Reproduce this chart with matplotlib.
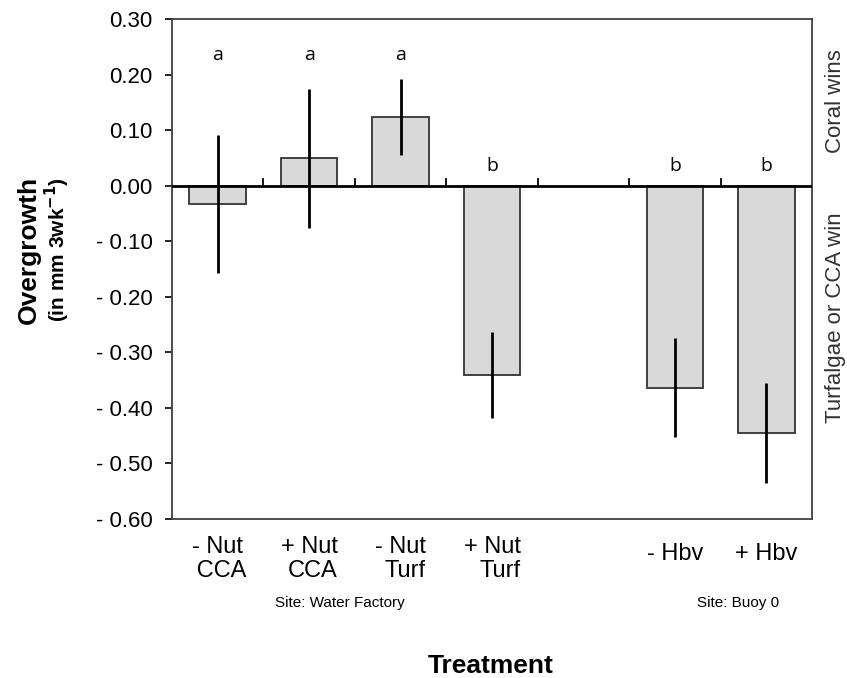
import matplotlib
matplotlib.use("Agg")
import matplotlib.pyplot as plt
from matplotlib.ticker import FixedLocator, FuncFormatter

# ---- data ----
categories = ["- Nut\n CCA", "+ Nut\nCCA", "- Nut\nTurf", "+ Nut\nTurf", "- Hbv", "+ Hbv"]
slots = [0, 1, 2, 3, 5, 6]          # slot 4 is an empty gap between sites
means = [-0.033, 0.049, 0.124, -0.341, -0.364, -0.446]
errors = [0.125, 0.125, 0.068, 0.078, 0.089, 0.090]
letters = ["a", "a", "a", "b", "b", "b"]
letter_y = [0.235, 0.235, 0.235, 0.035, 0.035, 0.035]
yticks = [0.30, 0.20, 0.10, 0.00, -0.10, -0.20, -0.30, -0.40, -0.50, -0.60]
sites = ["Site: Water Factory", "Site: Buoy 0"]

plt.rcParams['font.family'] = ['Liberation Sans', 'DejaVu Sans']

fig = plt.figure(figsize=(8.47, 6.78), dpi=100)
ax = fig.add_axes([172/847, 1 - 519/678, (812-172)/847, (519-19)/678])

ax.bar(slots, means, width=0.62, color="#d9d9d9", edgecolor="#333333", linewidth=1.3, zorder=2)
ax.errorbar(slots, means, yerr=errors, fmt="none", ecolor="black", elinewidth=2, capsize=0, zorder=3)

ax.set_xlim(-0.5, 6.5)
ax.set_ylim(-0.60, 0.30)

# zero line with small upward ticks at slot boundaries
ax.axhline(0, color="black", lw=2, zorder=4)
for b in [0.5, 1.5, 2.5, 3.5, 4.5, 5.5]:
    ax.plot([b, b], [0, 0.012], color="black", lw=1.3, zorder=4)

for s, l, ly in zip(slots, letters, letter_y):
    ax.text(s, ly, l, ha="center", va="center", fontsize=14, family=["Open Sans", "DejaVu Sans"])

ax.yaxis.set_major_locator(FixedLocator(yticks))
ax.yaxis.set_major_formatter(FuncFormatter(lambda v, p: ("- %.2f" % abs(v)) if v < -1e-9 else "%.2f" % abs(v)))
ax.tick_params(axis="y", direction="out", length=5, width=1.2, labelsize=16, colors="black", pad=9)

ax.set_xticks(slots)
ax.set_xticklabels(categories, fontsize=17, linespacing=1.15)
ax.tick_params(axis="x", length=0, pad=12)
for i, lab in enumerate(ax.get_xticklabels()):
    if i in (1, 2, 3):
        lab.set_multialignment("right")
for i, t in enumerate(ax.xaxis.get_major_ticks()):
    if i >= 4:
        t.set_pad(17)

for sp in ["left", "right", "top", "bottom"]:
    ax.spines[sp].set_color("#404040")
    ax.spines[sp].set_linewidth(1.3)

fig.text(340/847, 1 - 603/678, sites[0], ha="center", va="center", fontsize=11)
fig.text(738/847, 1 - 603/678, sites[1], ha="center", va="center", fontsize=11)

fig.text(491/847, 1 - 666/678, "Treatment", ha="center", va="center", fontsize=19, fontweight="bold")
fig.text(29/847, 1 - 250/678, "Overgrowth", ha="center", va="center", rotation=90, fontsize=19, fontweight="bold")
fig.text(57/847, 1 - 250/678, r"(in mm 3wk$^{\mathbf{-1}}$)", ha="center", va="center", rotation=90, fontsize=15, fontweight="bold")

fig.text(846/847, 1 - 101/678, "Coral wins", ha="right", va="center", rotation=90, fontsize=16, color="#333333")
fig.text(846/847, 1 - 318/678, "Turfalgae or CCA win", ha="right", va="center", rotation=90, fontsize=16, color="#333333")

fig.savefig("out.png", dpi=100)
